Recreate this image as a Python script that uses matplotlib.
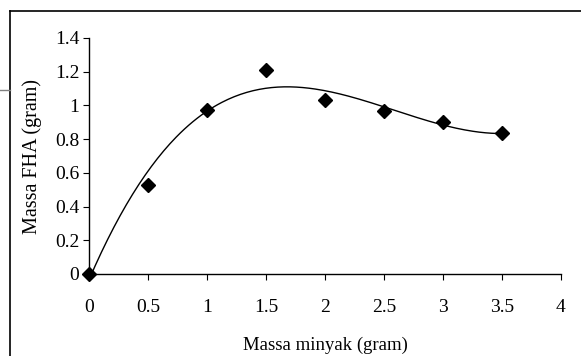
import numpy as np
import matplotlib
matplotlib.use("Agg")
import matplotlib.pyplot as plt
from matplotlib.lines import Line2D

x_vals = [0, 0.5, 1, 1.5, 2, 2.5, 3, 3.5]
y_vals = [0.0, 0.53, 0.97, 1.21, 1.03, 0.965, 0.90, 0.835]
x_ticks = [0, 0.5, 1, 1.5, 2, 2.5, 3, 3.5, 4]
x_ticklabels = ["0", "0.5", "1", "1.5", "2", "2.5", "3", "3.5", "4"]
y_ticks = [0, 0.2, 0.4, 0.6, 0.8, 1.0, 1.2, 1.4]
y_ticklabels = ["0", "0.2", "0.4", "0.6", "0.8", "1", "1.2", "1.4"]
x_label = "Massa minyak (gram)"
y_label = "Massa FHA (gram)"

plt.rcParams['font.family'] = ['Liberation Serif', 'DejaVu Serif']

fig = plt.figure(figsize=(5.81, 3.56), dpi=100)
ax = fig.add_axes([89/581, 1-274/356, (561-89)/581, (274-38)/356])

# polynomial trendline (as in spreadsheet)
coef = np.polyfit(x_vals, y_vals, 3)
xs = np.linspace(0, 3.5, 200)
ax.plot(xs, np.polyval(coef, xs), color='black', lw=1.0)
ax.plot(x_vals, y_vals, linestyle='none', marker='D', color='black', markersize=7.5, clip_on=False, zorder=3)

ax.set_xlim(0, 4)
ax.set_ylim(0, 1.4)
ax.set_xticks(x_ticks)
ax.set_xticklabels(x_ticklabels)
ax.set_yticks(y_ticks)
ax.set_yticklabels(y_ticklabels)
ax.spines['top'].set_visible(False)
ax.spines['right'].set_visible(False)
ax.spines['left'].set_linewidth(1.0)
ax.spines['bottom'].set_linewidth(1.0)
ax.tick_params(axis='x', direction='out', length=4, pad=14, labelsize=14)
ax.tick_params(axis='y', direction='out', length=4, pad=3, labelsize=14)
ax.set_xlabel(x_label, fontsize=13.5, labelpad=15)
ax.set_ylabel(y_label, fontsize=14.5, labelpad=9)

# figure frame lines
fig.add_artist(Line2D([10/581, 10/581], [0, 1-11/356], color='black', lw=1.2, transform=fig.transFigure))
fig.add_artist(Line2D([10/581, 1], [1-11/356, 1-11/356], color='black', lw=1.2, transform=fig.transFigure))
fig.add_artist(Line2D([0, 10/581], [1-90/356, 1-90/356], color='gray', lw=1.0, transform=fig.transFigure))

fig.savefig("out.png", dpi=100)
